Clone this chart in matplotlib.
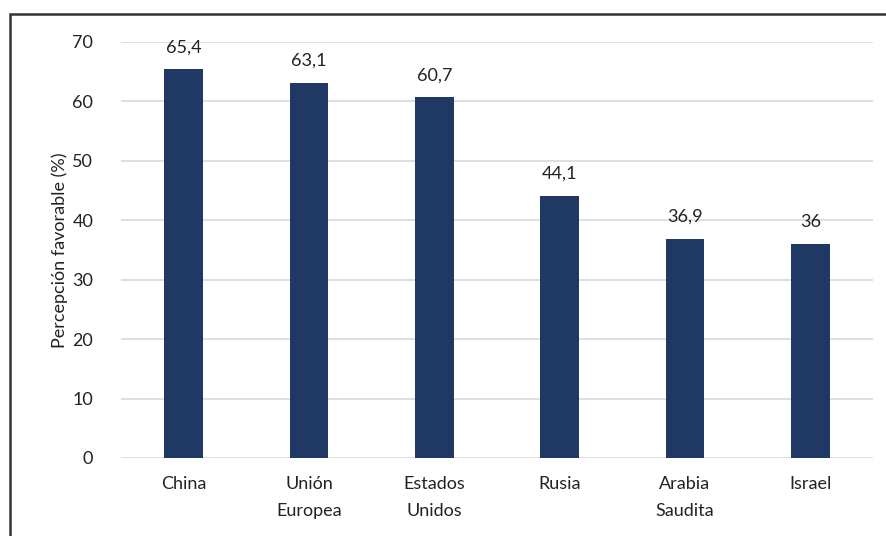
import matplotlib.pyplot as plt
from matplotlib.patches import Rectangle

paises = ["China", "Unión\nEuropea", "Estados\nUnidos", "Rusia", "Arabia\nSaudita", "Israel"]
valores = [65.4, 63.1, 60.7, 44.1, 36.9, 36]
etiquetas = ["65,4", "63,1", "60,7", "44,1", "36,9", "36"]

plt.rcParams['font.family'] = ['Lato', 'DejaVu Sans']

fig = plt.figure(figsize=(8.87, 5.36), dpi=100)
ax = fig.add_axes([121/887, 1-458/536, 752/887, 416/536])

x = range(len(paises))
bars = ax.bar(x, valores, width=0.31, color="#203864", zorder=3)
for b, t in zip(bars, etiquetas):
    ax.annotate(t, (b.get_x() + b.get_width()/2, b.get_height()),
                xytext=(0, 10), textcoords="offset points",
                ha="center", va="bottom", fontsize=13, color="#222222")

ax.set_xlim(-0.5, len(paises) - 0.5)
ax.set_ylim(0, 70)
ax.set_yticks(range(0, 71, 10))
ax.set_xticks(list(x))
ax.set_xticklabels(paises, fontsize=13, color="#222222", linespacing=1.85)
ax.tick_params(axis="y", labelsize=13, labelcolor="#222222", length=0, pad=20)
ax.tick_params(axis="x", length=0, pad=13)
ax.grid(axis="y", color="#D9D9D9", linewidth=1.2, zorder=0)
for s in ax.spines.values():
    s.set_visible(False)
ax.set_ylabel("Percepción favorable (%)", fontsize=13, color="#222222", labelpad=3)

# marco exterior del gráfico (recortado a la derecha y abajo)
fig.patches.append(Rectangle((10/887, -0.1), 1.2, 1 - 14/536 + 0.1,
                             transform=fig.transFigure, fill=False,
                             edgecolor="#333333", linewidth=1.8))

fig.savefig("out.png", dpi=100)
